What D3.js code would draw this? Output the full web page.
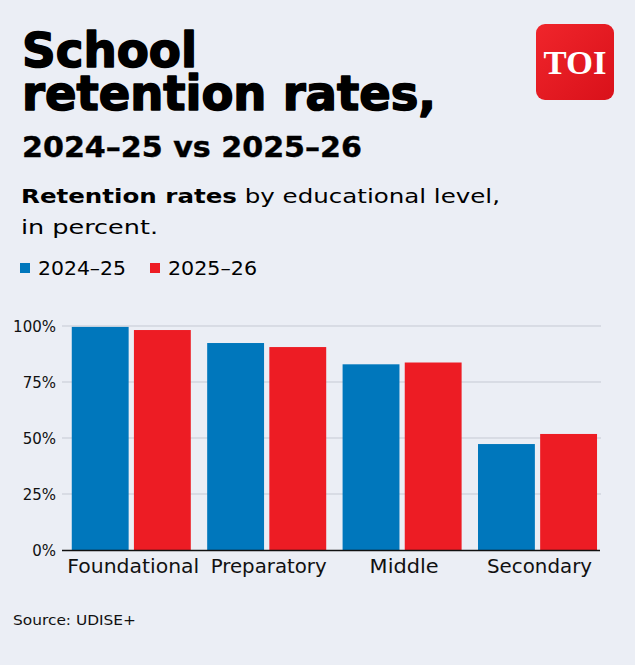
<!DOCTYPE html>
<html><head><meta charset="utf-8">
<script src="https://cdn.jsdelivr.net/npm/d3@7"></script>
<style>
html,body{margin:0;padding:0;background:#ebeef5;}
svg{display:block;}
</style></head><body>
<svg id="c" width="635" height="665"></svg>
<script>
const categories = ["Foundational","Preparatory","Middle","Secondary"];
const seriesNames = ["2024–25","2025–26"];
const values2024 = [99.6, 92.4, 82.9, 47.3];
const values2025 = [98.2, 90.6, 83.7, 51.8];
const yTicks = [0,25,50,75,100];
const tickLabels = ["0%","25%","50%","75%","100%"];

const colors = ["#0077bc","#ed1c24"];
const font = "'DejaVu Sans', sans-serif";
const svg = d3.select("#c");
svg.append("rect").attr("width",635).attr("height",665).attr("fill","#ebeef5");

function fitText(sel, target){
  const n = sel.node();
  const w = n.getComputedTextLength();
  if (w>0) sel.attr("textLength", target).attr("lengthAdjust","spacingAndGlyphs");
}

// Title (one text, two lines)
const t = svg.append("text").attr("font-family",font)
  .attr("font-weight",900).attr("font-size",48).attr("fill","#000")
  .attr("stroke","#000").attr("stroke-width",1.6).attr("stroke-linejoin","round");
t.append("tspan").attr("x",22).attr("y",66.5).attr("textLength",175).attr("lengthAdjust","spacingAndGlyphs").text("School");
t.append("tspan").attr("x",22).attr("y",110).attr("textLength",414).attr("lengthAdjust","spacingAndGlyphs").text("retention rates,");

const t3 = svg.append("text").attr("x",22).attr("y",157).attr("font-family",font)
  .attr("font-weight",700).attr("font-size",28).attr("fill","#000")
  .attr("stroke","#000").attr("stroke-width",0.4).text("2024–25 vs 2025–26");
fitText(t3,340);

const s1 = svg.append("text").attr("x",21).attr("y",203).attr("font-family",font)
  .attr("font-size",20).attr("fill","#000");
s1.append("tspan").attr("font-weight",700).text("Retention rates");
s1.append("tspan").text(" by educational level,");
fitText(s1,479);
const s2 = svg.append("text").attr("x",21).attr("y",234).attr("font-family",font)
  .attr("font-size",20).attr("fill","#000").text("in percent.");
fitText(s2,137);

// Legend
const legX = [20, 150];
const legW = [88, 89];
seriesNames.forEach((s,i)=>{
  svg.append("rect").attr("x",legX[i]).attr("y",263).attr("width",10).attr("height",10).attr("fill",colors[i]);
  const lt = svg.append("text").attr("x",legX[i]+18).attr("y",275).attr("font-family",font)
    .attr("font-size",19).attr("fill","#000").text(s);
  fitText(lt, legW[i]);
});

// Logo
const defs = svg.append("defs");
const g = defs.append("linearGradient").attr("id","lg").attr("x1","0").attr("y1","0").attr("x2","1").attr("y2","1");
g.append("stop").attr("offset","0").attr("stop-color","#f0252b");
g.append("stop").attr("offset","1").attr("stop-color","#d9111a");
svg.append("rect").attr("x",536).attr("y",24).attr("width",78).attr("height",76).attr("rx",9).attr("fill","url(#lg)");
const logo = svg.append("text").attr("x",575).attr("y",74).attr("text-anchor","middle")
  .attr("font-family","'Liberation Serif','DejaVu Serif',serif").attr("font-weight",700)
  .attr("font-size",34).attr("fill","#fff").text("TOI");
fitText(logo,63);

// Chart
const y = d3.scaleLinear().domain([0,100]).range([550,326]);
const x0 = d3.scaleBand().domain(categories).range([65,603.8]).paddingInner(0.121).paddingOuter(0.05);
const x1 = d3.scaleBand().domain(seriesNames).range([0,x0.bandwidth()]).paddingInner(0.085).paddingOuter(0);

const grid = svg.append("g");
yTicks.forEach(tk=>{
  if (tk===0) return;
  grid.append("line").attr("x1",62).attr("x2",601).attr("y1",y(tk)).attr("y2",y(tk))
    .attr("stroke","#c5c9d3").attr("stroke-width",1);
});

const yAxis = d3.axisLeft(y).tickValues(yTicks).tickFormat((d,i)=>tickLabels[i]).tickSize(0).tickPadding(0);
const ya = svg.append("g").attr("transform","translate(56,0)").call(yAxis);
ya.select(".domain").remove();
ya.selectAll("text").attr("font-family",font).attr("font-size",15).attr("fill","#111").attr("dy","0.36em");

const rows = categories.map((c,i)=>({cat:c, vals:[values2024[i], values2025[i]]}));
const groups = svg.append("g").selectAll("g").data(rows).join("g")
  .attr("transform",d=>`translate(${x0(d.cat)},0)`);
groups.selectAll("rect").data(d=>d.vals.map((v,i)=>({s:seriesNames[i], v, i})))
  .join("rect")
  .attr("x",d=>x1(d.s)).attr("width",x1.bandwidth())
  .attr("y",d=>y(d.v)).attr("height",d=>y(0)-y(d.v))
  .attr("fill",d=>colors[d.i]);

svg.append("line").attr("x1",62).attr("x2",600).attr("y1",550.5).attr("y2",550.5)
  .attr("stroke","#111").attr("stroke-width",1.3);

const labelW = [132, 116, 69, 105];
const xAxis = d3.axisBottom(x0).tickSize(0).tickPadding(0);
const xa = svg.append("g").attr("transform","translate(0,573)").call(xAxis);
xa.select(".domain").remove();
xa.selectAll(".tick").attr("transform",(d)=>`translate(${x0(d)+x0.bandwidth()/2+2},0)`);
xa.selectAll("text").attr("font-family",font).attr("font-size",19).attr("fill","#111").attr("dy","0")
  .each(function(d,i){ fitText(d3.select(this), labelW[i]); });

const src = svg.append("text").attr("x",13).attr("y",625).attr("font-family",font).attr("font-size",14.5)
  .attr("fill","#111").text("Source: UDISE+");
fitText(src,123);
</script>
</body></html>
